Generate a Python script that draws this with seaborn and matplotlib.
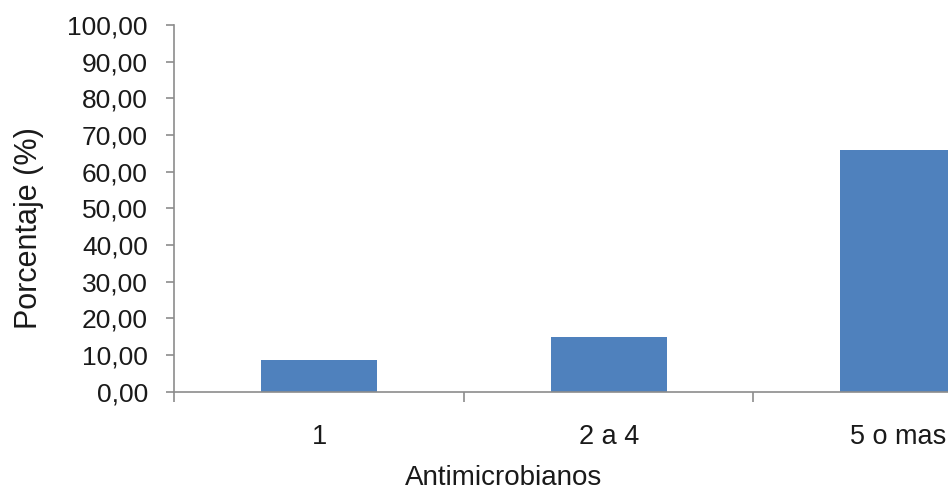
import matplotlib
matplotlib.use('Agg')
import matplotlib.pyplot as plt
import seaborn as sns
import pandas as pd

# Dati
categorias = ['1', '2 a 4', '5 o mas']
porcentajes = [8.6, 14.9, 65.8]
y_ticks = [0, 10, 20, 30, 40, 50, 60, 70, 80, 90, 100]

df = pd.DataFrame({'Antimicrobianos': categorias, 'Porcentaje': porcentajes})

sns.set_style('white')
plt.rcParams['font.family'] = ['Liberation Sans', 'DejaVu Sans']

fig = plt.figure(figsize=(9.48, 4.90), dpi=100)
ax = fig.add_axes([0.1839, 0.2006, 1 - 0.1839, 0.949 - 0.2006])

sns.barplot(data=df, x='Antimicrobianos', y='Porcentaje', color='#4F81BD',
            width=0.4, edgecolor='none', saturation=1, ax=ax)

ax.set_xlim(-0.5, 2.172)
ax.set_ylim(0, 100)

# assi in grigio, solo sinistra e sotto
for lato in ['top', 'right']:
    ax.spines[lato].set_visible(False)
for lato in ['left', 'bottom']:
    ax.spines[lato].set_color('#8c8c8c')
    ax.spines[lato].set_linewidth(1.2)

ax.set_yticks(y_ticks)
ax.set_yticklabels([f'{v:.2f}'.replace('.', ',') for v in y_ticks])
ax.tick_params(axis='y', which='major', length=6, width=1.2, color='#8c8c8c',
               pad=13, labelsize=19, labelcolor='#1a1a1a', left=True)

# etichette categorie al centro, tacche ai bordi
ax.set_xticks([0, 1, 2])
ax.set_xticklabels(categorias)
ax.set_xticks([-0.5, 0.5, 1.5], minor=True)
ax.tick_params(axis='x', which='major', length=0, pad=23, labelsize=19.5,
               labelcolor='#1a1a1a')
ax.tick_params(axis='x', which='minor', length=7, width=1.2, color='#8c8c8c',
               bottom=True)

ax.set_xlabel('Antimicrobianos', fontsize=20, color='#1a1a1a')
ax.xaxis.set_label_coords(0.425, -0.2)
ax.set_ylabel('Porcentaje (%)', fontsize=22, color='#1a1a1a')
ax.yaxis.set_label_coords(-0.168, 0.446)

plt.savefig('out.png', dpi=100)
